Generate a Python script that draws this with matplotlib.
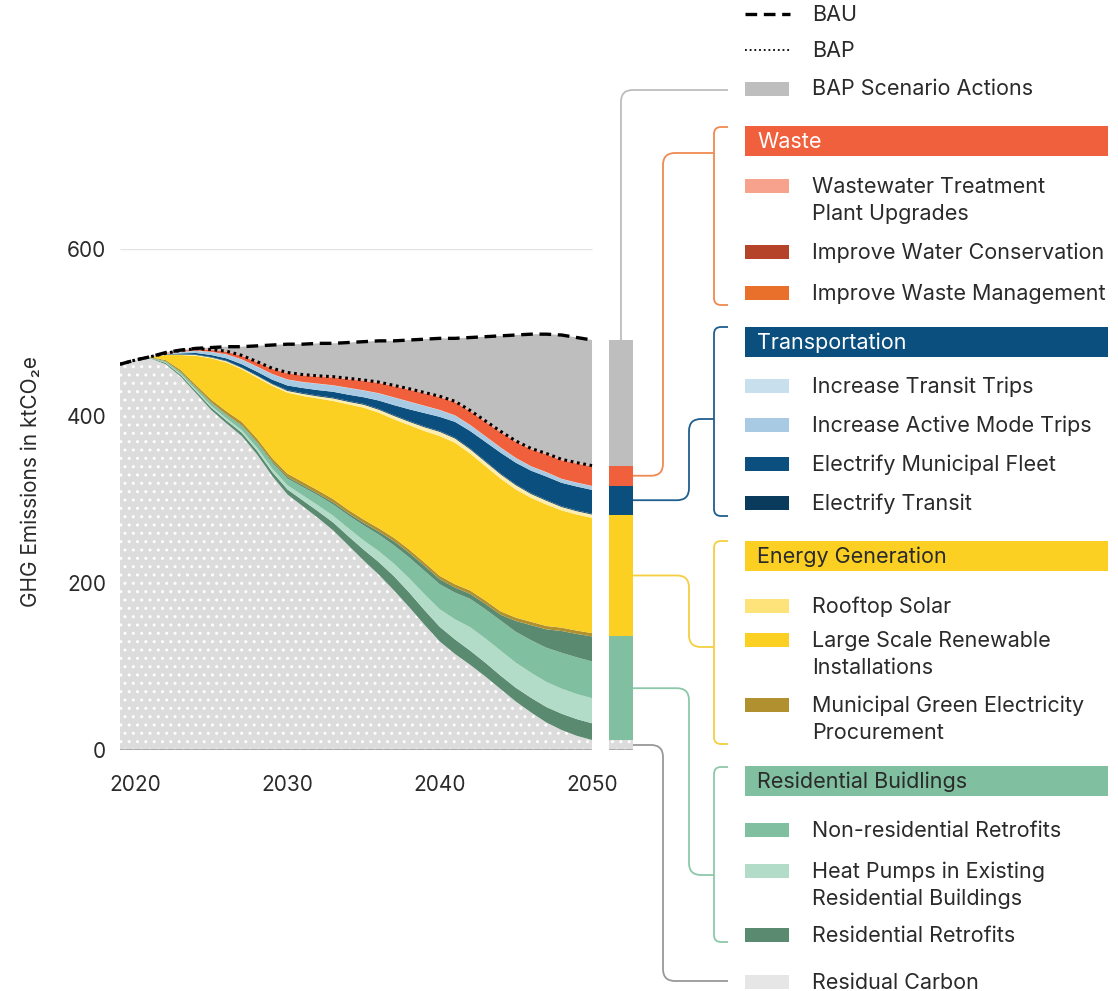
import numpy as np
import matplotlib
matplotlib.use("Agg")
import matplotlib.pyplot as plt
from matplotlib.path import Path
from matplotlib.patches import PathPatch, Rectangle

plt.rcParams['font.family'] = ['Inter', 'DejaVu Sans']
plt.rcParams['hatch.linewidth'] = 1.0

# ===============================
# Data (ktCO2e), one value per year 2019-2050
# ===============================
years = np.arange(2019, 2051)

bau = [462, 467, 471, 476, 479, 481, 482, 483, 483, 484, 485, 486, 486, 487, 487, 488,
       489, 490, 490, 491, 492, 493, 493, 494, 495, 496, 497, 498, 498, 497, 494, 491]

residual = [462, 467, 469, 462, 447, 427, 407, 391, 376, 354, 328, 306, 292, 278, 263, 245,
            227, 210, 191, 171, 150, 130, 115, 102, 88, 73, 58, 45, 33, 24, 17, 12]

# residential buildings
res_retrofits = [0, 0, 0.5, 1.5, 2, 2.5, 3, 3.5, 4, 4.5, 5, 6, 7, 8, 9.5, 11,
                 13, 15, 17, 17.5, 17.5, 17.5, 17.5, 17, 16.5, 16, 16.5, 17.5, 18.5, 19.5, 20, 20]
heat_pumps = [0, 0, 0, 0.5, 1, 1.5, 2, 2.5, 3, 3.5, 4, 5, 6, 7, 8, 9.5,
              11, 13, 15, 17, 19, 21, 24, 28, 29, 30, 30, 30, 30, 30, 30, 30]
nonres_retrofits = [0, 0, 0.5, 1.5, 2.5, 3, 3.5, 4, 5, 6, 7, 8, 10, 12, 13.5, 15.5,
                    18, 20, 22, 25, 28, 30, 32, 34, 35, 36, 37, 39, 41, 43, 44, 44]
res_retrofits_deep = [0, 0, 0, 0, 0, 0, 0.5, 0.5, 1, 1, 1.5, 2, 2, 2, 2.5, 2.5,
                      3, 3.5, 5, 5.5, 6, 6, 6, 6, 6.5, 7, 13, 18, 22, 26, 28, 30]

# energy generation
green_procurement = [0, 0, 0.5, 1.5, 2.5, 3, 3.5, 4, 4, 4, 4, 4, 4, 4, 4, 4,
                     4, 4, 4, 4, 4, 4, 4, 4, 4, 4, 4, 4, 4, 4, 4, 4]
large_scale = [0, 0, 0.5, 6, 18, 35, 49.5, 58.5, 63, 73, 86.5, 97, 103, 110, 117.5, 126.5,
               134, 138.5, 142, 149, 157.5, 167.5, 169.5, 164, 161, 159, 153.5, 148.5, 145.5, 140.5, 139, 138]
rooftop_solar = [0, 0, 0, 0.5, 0.5, 1, 1, 1.5, 1.5, 2, 2, 2, 2.5, 2.5, 3, 3,
                 3.5, 3.5, 4, 4, 4.5, 5, 5, 5, 5, 5, 5, 4.5, 4.5, 4, 4, 4]

# transportation
electrify_transit = [0, 0, 0, 0, 0.5, 0.5, 0.5, 0.5, 0.5, 0.5, 0.5, 1, 1, 1, 1, 1,
                     1, 1, 1, 1, 1, 1, 1, 1, 1, 1, 1, 1, 1, 1, 1, 1]
municipal_fleet = [0, 0, 0, 0.5, 1, 2, 2.5, 3, 4, 4.5, 5, 5.5, 6, 6.5, 7, 7.5,
                   8, 10, 12, 14, 16, 17, 19, 21, 23, 25, 26, 27, 28, 28, 28.5, 28.5]
active_mode = [0, 0, 0, 0.5, 1.5, 2.5, 3.5, 4.5, 5.5, 6, 6.5, 7, 7, 7.5, 7.5, 8,
               8, 8.5, 9, 9, 8.5, 8, 7.5, 7, 6.5, 6, 5.5, 5, 5, 4.5, 4.5, 4.5]
transit_trips = [0, 0, 0, 0, 0.3, 0.3, 0.3, 0.3, 0.3, 0.3, 0.3, 0.3, 0.3, 0.3, 0.3, 0.3,
                 0.3, 0.3, 0.3, 0.3, 0.3, 0.3, 0.3, 0.3, 0.3, 0.3, 0.3, 0.3, 0.3, 0.3, 0.3, 0.3]

# waste
waste_mgmt = [0, 0, 0, 0.5, 1, 1.5, 2, 3, 4, 5, 6, 7, 7.5, 8, 9, 10,
              11, 12, 13, 14, 14.5, 15, 15.5, 16, 17, 18, 19, 20, 21, 22, 22.5, 23]
water_conservation = [0, 0, 0, 0, 0.3, 0.3, 0.3, 0.3, 0.3, 0.3, 0.3, 0.3, 0.3, 0.3, 0.3, 0.3,
                      0.3, 0.3, 0.3, 0.3, 0.3, 0.3, 0.3, 0.3, 0.3, 0.3, 0.3, 0.3, 0.3, 0.3, 0.3, 0.3]
wastewater = [0, 0, 0, 0, 0.5, 0.5, 0.5, 0.5, 0.5, 0.5, 0.5, 1, 1, 1, 1, 1,
              1, 1, 1, 1, 1, 1, 1, 1, 1, 1, 1, 1, 1, 1, 1, 1]

# ===============================
# Colours
# ===============================
C_RESID = '#dcdcdc'
C_GRAY = '#bebebe'
C_WASTE = '#f1603c'
C_TRANS = '#0b4f7f'
C_ENERGY = '#fbd022'
C_RES = '#80bf9f'
C_TEXT = '#2a2a2a'

# (values, chart colour) bottom -> top
layers = [
    (residual, C_RESID),
    (res_retrofits, '#5a8a6f'),
    (heat_pumps, '#b3dcc8'),
    (nonres_retrofits, '#80bf9f'),
    (res_retrofits_deep, '#5a8a6f'),
    (green_procurement, '#b0902f'),
    (large_scale, '#fbd022'),
    (rooftop_solar, '#fdeeb0'),
    (electrify_transit, '#0a3a5c'),
    (municipal_fleet, '#0b4f7f'),
    (active_mode, '#a8cbe3'),
    (transit_trips, '#c8e0ee'),
    (waste_mgmt, '#f1603c'),
    (water_conservation, '#b4432a'),
    (wastewater, '#f6a28c'),
]

fig = plt.figure(figsize=(11.18, 9.91), dpi=100)
W, H = 1118, 991
ax = fig.add_axes([120 / W, (H - 750) / H, 517.7 / W, 501 / H])
ax.set_xlim(2019, 2053)
ax.set_ylim(0, 600)

# stacked areas
base = np.zeros(len(years))
for i, (vals, col) in enumerate(layers):
    top = base + np.asarray(vals, float)
    if i == 0:
        ax.fill_between(years, base, top, facecolor=col, edgecolor='white',
                        hatch='..', linewidth=0, zorder=2)
    else:
        ax.fill_between(years, base, top, facecolor=col, linewidth=0, zorder=2)
    base = top
bap = base
bau = np.asarray(bau, float)

ax.fill_between(years, bap, bau, facecolor=C_GRAY, linewidth=0, zorder=1)
ax.plot(years, bau, color='black', lw=2.4, linestyle=(0, (3.5, 2)), zorder=5)
ax.plot(years, bap, color='black', lw=2.2, linestyle=(0, (0.9, 1.2)), zorder=5)

# 2050 summary bar, grouped by sector
i50 = -1
groups = [
    (residual[i50], C_RESID, '..'),
    (res_retrofits[i50] + heat_pumps[i50] + nonres_retrofits[i50] + res_retrofits_deep[i50], C_RES, None),
    (green_procurement[i50] + large_scale[i50] + rooftop_solar[i50], C_ENERGY, None),
    (electrify_transit[i50] + municipal_fleet[i50] + active_mode[i50] + transit_trips[i50], C_TRANS, None),
    (waste_mgmt[i50] + water_conservation[i50] + wastewater[i50], C_WASTE, None),
    (bau[i50] - bap[i50], C_GRAY, None),
]
bx, bw = 2051.9, 1.58
bottom = 0
bar_mid = []
for val, col, hat in groups:
    ax.bar(bx, val, bottom=bottom, width=bw, color=col, hatch=hat,
           edgecolor='white' if hat else col, linewidth=0, zorder=2)
    bar_mid.append(bottom + val / 2)
    bottom += val
bar_top = bottom

# axis lines
ax.hlines(600, 2019, 2050, color='#e3e3e3', lw=1, zorder=0)
ax.hlines(0, 2019, 2050, color='#a0a0a0', lw=1.2, zorder=3)
ax.hlines(0, bx - bw / 2, bx + bw / 2, color='#a0a0a0', lw=1.2, zorder=3)

for s in ax.spines.values():
    s.set_visible(False)
ax.set_xticks([2020, 2030, 2040, 2050])
ax.set_yticks([0, 200, 400, 600])
ax.tick_params(axis='both', length=0, labelsize=15, colors=C_TEXT)
ax.tick_params(axis='y', pad=10)
ax.tick_params(axis='x', pad=18)
ax.set_ylabel('GHG Emissions in ktCO\u2082e', fontsize=15, color=C_TEXT)
ax.yaxis.set_label_coords(-0.152, 0.535)

# ===============================
# Legend / connector overlay in pixel coordinates
# ===============================
ov = fig.add_axes([0, 0, 1, 1], zorder=5)
ov.set_xlim(0, W)
ov.set_ylim(H, 0)
ov.axis('off')
ov.patch.set_alpha(0)


def to_px(x, y):
    dx, dy = ax.transData.transform((x, y))
    return dx, H - dy


def rounded(pts, color, r=12, lw=1.3):
    verts = [pts[0]]
    codes = [Path.MOVETO]
    for k in range(1, len(pts) - 1):
        p0, p1, p2 = (np.array(pts[k - 1], float), np.array(pts[k], float),
                      np.array(pts[k + 1], float))
        l1, l2 = np.linalg.norm(p1 - p0), np.linalg.norm(p2 - p1)
        rr = min(r, l1 / 2, l2 / 2)
        d1, d2 = (p1 - p0) / l1, (p2 - p1) / l2
        verts += [p1 - d1 * rr, p1, p1 + d2 * rr]
        codes += [Path.LINETO, Path.CURVE3, Path.CURVE3]
    verts.append(pts[-1])
    codes.append(Path.LINETO)
    ov.add_patch(PathPatch(Path(verts, codes), fill=False, edgecolor=color, lw=lw))


bar_right = to_px(bx + bw / 2, 0)[0]
bar_cx = to_px(bx, 0)[0]
mids = [to_px(bx, m)[1] for m in bar_mid]
top_px = to_px(bx, bar_top)[1]

SW_X, TXT_X, HDR_R = 745, 812, 1108
FS = 15.5

# line legend
ov.plot([745, 790], [14, 14], color='black', lw=2.4, linestyle=(0, (3.5, 2)))
ov.text(TXT_X, 15, 'BAU', fontsize=FS, color=C_TEXT, va='center')
ov.plot([745, 790], [50, 50], color='black', lw=1.3, linestyle=(0, (1, 1.6)))
ov.text(TXT_X, 51, 'BAP', fontsize=FS, color=C_TEXT, va='center')
ov.add_patch(Rectangle((SW_X, 82), 44, 14, color=C_GRAY, lw=0))
ov.text(TXT_X, 89, 'BAP Scenario Actions', fontsize=FS, color=C_TEXT, va='center')
rounded([(bar_cx, top_px), (bar_cx, 90), (728, 90)], '#bdbdbd')


def header(y, label, col, tcol):
    ov.add_patch(Rectangle((SW_X, y - 15), HDR_R - SW_X, 30, color=col, lw=0))
    ov.text(757, y + 1, label, fontsize=FS, color=tcol, va='center')


def item(y, lines, col):
    ov.add_patch(Rectangle((SW_X, y - 7), 44, 14, color=col, lw=0))
    for j, ln in enumerate(lines):
        ov.text(TXT_X, y + 1 + 27 * j, ln, fontsize=FS, color=C_TEXT, va='center')


def bracket(y0, y1, ym, xconn, ybar, col):
    rounded([(728, y0), (714, y0), (714, y1), (728, y1)], col)
    rounded([(714, ym), (xconn, ym), (xconn, ybar), (bar_right, ybar)], col)


# Waste
header(141, 'Waste', C_WASTE, 'white')
item(186, ['Wastewater Treatment', 'Plant Upgrades'], '#f6a28c')
item(252, ['Improve Water Conservation'], '#b4432a')
item(293, ['Improve Waste Management'], '#e8702a')
bracket(127, 305, 153, 663, mids[4], '#ef8a52')

# Transportation
header(342, 'Transportation', C_TRANS, 'white')
item(386, ['Increase Transit Trips'], '#c8e0ee')
item(425, ['Increase Active Mode Trips'], '#a8cbe3')
item(464, ['Electrify Municipal Fleet'], '#0b4f7f')
item(503, ['Electrify Transit'], '#0a3a5c')
bracket(327, 516, 419, 689, mids[3], '#1f5f8f')

# Energy Generation
header(556, 'Energy Generation', C_ENERGY, C_TEXT)
item(606, ['Rooftop Solar'], '#fde37a')
item(640, ['Large Scale Renewable', 'Installations'], '#fbd022')
item(705, ['Municipal Green Electricity', 'Procurement'], '#b0902f')
bracket(541, 744, 647, 689, mids[2], '#f5cf40')

# Residential Buildings
header(781, 'Residential Buidlings', C_RES, C_TEXT)
item(830, ['Non-residential Retrofits'], '#80bf9f')
item(871, ['Heat Pumps in Existing', 'Residential Buildings'], '#b3dcc8')
item(935, ['Residential Retrofits'], '#5a8a6f')
bracket(767, 942, 875, 689, mids[1], '#8cc8a8')

# Residual
item(982, ['Residual Carbon'], '#e6e6e6')
rounded([(bar_right, mids[0]), (663, mids[0]), (663, 981), (728, 981)], '#999999')

fig.savefig('out.png', dpi=100)
